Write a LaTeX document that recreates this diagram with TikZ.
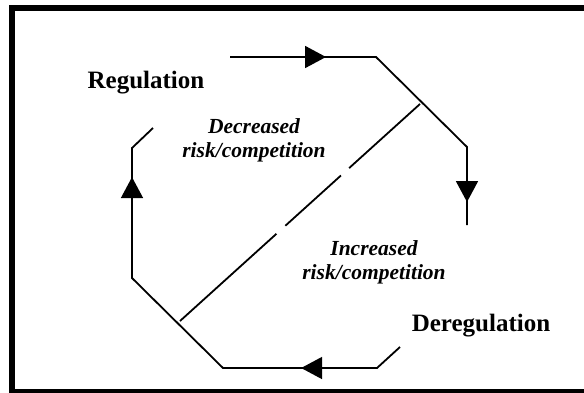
\documentclass[tikz,border=0pt]{standalone}
\usepackage{fontspec}
\setmainfont{Liberation Serif}
\usetikzlibrary{arrows.meta, decorations.markings}

\begin{document}
\begin{tikzpicture}[
    x=1pt, y=-1pt,
    stage/.style={
        font=\fontsize{25}{30}\selectfont\bfseries,
        inner sep=0pt
    },
    effect/.style={
        font=\fontsize{21.5}{24}\selectfont\bfseries\itshape,
        align=center,
        inner sep=0pt
    },
    flow/.style={
        line width=1.8pt,
        line join=miter
    },
    tips/.style 2 args={
        postaction={decorate},
        decoration={markings,
            mark=at position #1 with {\arrow{Triangle[length=21pt,width=22pt]}},
            mark=at position #2 with {\arrow{Triangle[length=21pt,width=22pt]}}}
    },
    divide/.style={
        line width=1.8pt,
        dash pattern=on 130pt off 12pt on 75pt off 11pt on 200pt
    },
    frame/.style={
        line width=6pt
    }
]

\useasboundingbox (0,0) rectangle (584,392);
\clip (0,0) rectangle (584,392);
\draw [frame] (11.5,8.3) rectangle (610,391.5);

% Nodes
\node (reg) [stage] at (146,83) {Regulation};
\node (dereg) [stage] at (481,326) {Deregulation};
\node (dec) [effect] at (254,140) {Decreased\\risk/competition};
\node (inc) [effect] at (374,262) {Increased\\risk/competition};

% Corners
\coordinate (r0) at (230,57);
\coordinate (r1) at (376,57);
\coordinate (r2) at (467,147);
\coordinate (r3) at (467,225);
\coordinate (d0) at (400,347);
\coordinate (d1) at (377,368);
\coordinate (d2) at (223,368);
\coordinate (d3) at (132,278);
\coordinate (d4) at (132,148);
\coordinate (d5) at (153,128);
\coordinate (low) at (180,321);
\coordinate (high) at (420,104);

% Paths
\draw [flow, tips={96pt}{329pt}] (r0) -- (r1) -- (r2) -- (r3);
\draw [flow, tips={107pt}{414pt}] (d0) -- (d1) -- (d2) -- (d3) -- (d4) -- (d5);
\draw [divide] (low) -- (high);

\end{tikzpicture}
\end{document}
